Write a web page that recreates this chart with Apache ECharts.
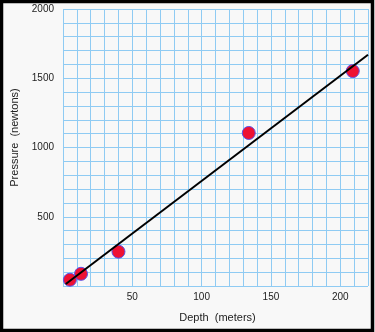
<!DOCTYPE html>
<html><head><meta charset="utf-8">
<script src="https://cdn.jsdelivr.net/npm/echarts@6/dist/echarts.min.js"></script>
<style>html,body{margin:0;padding:0;background:#f8f8f8}#c{width:375px;height:332px}</style>
</head><body><div id="c"></div>
<script>
const depth = [5, 13, 40, 134, 209];
const pressure = [45, 88, 248, 1105, 1552];
const fitLine = [[2, 14], [220, 1670]];
const xTicks = [50, 100, 150, 200];
const yTicks = [500, 1000, 1500, 2000];

const chart = echarts.init(document.getElementById('c'), null, {renderer: 'canvas'});
const gridColor = '#8fcbf3';
chart.setOption({
  backgroundColor: '#f8f8f8',
  animation: false,
  textStyle: {fontFamily: 'Liberation Sans, Arial, sans-serif'},
  grid: {left: 63, top: 9, right: 7, bottom: 46},
  graphic: [{type: 'rect', shape: {x: 1.5, y: 1.5, width: 371, height: 329}, style: {fill: 'none', stroke: '#000', lineWidth: 3.5}, z: 100}],
  xAxis: {
    type: 'value', min: 0, max: 220, interval: 10,
    name: 'Depth  (meters)', nameLocation: 'middle', nameGap: 26,
    nameTextStyle: {fontSize: 11, color: '#222', padding: [0, 0, 0, 4]},
    axisLine: {show: false}, axisTick: {show: false},
    axisLabel: {fontSize: 10, color: '#222', margin: 6, formatter: v => xTicks.includes(v) ? String(v) : ''},
    splitLine: {show: true, lineStyle: {color: gridColor, width: 1}}
  },
  yAxis: {
    type: 'value', min: 0, max: 2000, interval: 100,
    name: 'Pressure  (newtons)', nameLocation: 'middle', nameGap: 42, nameRotate: 90,
    nameTextStyle: {fontSize: 11, color: '#222', padding: [0, 0, 0, 20]},
    axisLine: {show: false}, axisTick: {show: false},
    axisLabel: {fontSize: 10, color: '#222', margin: 9, formatter: v => yTicks.includes(v) ? String(v) : ''},
    splitLine: {show: true, lineStyle: {color: gridColor, width: 1}}
  },
  series: [
    {type: 'scatter', data: depth.map((d, i) => [d, pressure[i]]), symbolSize: 13,
     itemStyle: {color: '#ee1133', borderColor: '#5a50e8', borderWidth: 1, opacity: 1}, z: 2},
    {type: 'line', data: fitLine, symbol: 'none', lineStyle: {color: '#000', width: 2}, z: 3}
  ]
});
</script></body></html>
